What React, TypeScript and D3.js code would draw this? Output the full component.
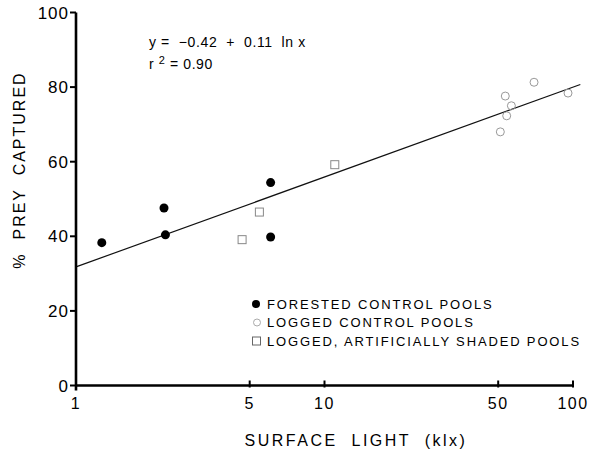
import React, { useEffect, useRef } from "react"
import * as d3 from "d3"

// forested control pools (filled dots)
const forestedX = [1.27, 2.26, 2.29, 6.07, 6.07];
const forestedY = [38.3, 47.6, 40.4, 54.4, 39.8];

// logged control pools (open circles)
const loggedX = [69.7, 53.4, 56.5, 54.1, 51.0, 95.5];
const loggedY = [81.3, 77.6, 75.0, 72.3, 68.0, 78.4];

// logged, artificially shaded pools (open squares)
const shadedX = [4.66, 5.47, 11.0];
const shadedY = [39.1, 46.5, 59.2];

// fitted line ends
const fitX = [1, 107];
const fitY = [31.8, 80.7];

const xTicks = [1, 5, 10, 50, 100];
const yTicks = [0, 20, 40, 60, 80, 100];

const legendLabels = [
    'FORESTED CONTROL POOLS',
    'LOGGED CONTROL POOLS',
    'LOGGED, ARTIFICIALLY SHADED POOLS'
];

const width = 593;
const height = 454;
const font = '"Liberation Sans", Arial, Helvetica, sans-serif';

const App = () => {
    const ref = useRef(null);

    useEffect(() => {
        const g = d3.select(ref.current);
        g.selectAll('*').remove();

        const xScale = d3.scaleLog().domain([1, 100]).range([76, 573]);
        const yScale = d3.scaleLinear().domain([0, 100]).range([385.5, 12.5]);

        // fitted line
        g.append('line')
            .attr('x1', xScale(fitX[0]))
            .attr('y1', yScale(fitY[0]))
            .attr('x2', xScale(fitX[1]))
            .attr('y2', yScale(fitY[1]))
            .attr('stroke', '#111')
            .attr('stroke-width', 1.2)

        // axes
        g.append('line')
            .attr('x1', xScale(1)).attr('x2', xScale(1))
            .attr('y1', yScale(100)).attr('y2', yScale(0) + 5)
            .attr('stroke', '#000').attr('stroke-width', 2.6)

        g.append('line')
            .attr('x1', xScale(1)).attr('x2', xScale(100))
            .attr('y1', yScale(0)).attr('y2', yScale(0))
            .attr('stroke', '#000').attr('stroke-width', 2.6)

        const yT = g.append('g');
        yTicks.forEach(t => {
            yT.append('line')
                .attr('x1', xScale(1) - 6).attr('x2', xScale(1))
                .attr('y1', yScale(t)).attr('y2', yScale(t))
                .attr('stroke', '#000').attr('stroke-width', 2)
            yT.append('text')
                .attr('x', xScale(1) - 7)
                .attr('y', yScale(t))
                .attr('dy', '0.36em')
                .attr('text-anchor', 'end')
                .attr('font-size', 17)
                .attr('letter-spacing', 1)
                .attr('font-family', font)
                .text(t)
        })

        const xT = g.append('g');
        xTicks.forEach(t => {
            xT.append('line')
                .attr('x1', xScale(t)).attr('x2', xScale(t))
                .attr('y1', yScale(0) - 5).attr('y2', yScale(0) + 2)
                .attr('stroke', '#000').attr('stroke-width', 2)
            xT.append('text')
                .attr('x', xScale(t))
                .attr('y', yScale(0) + 23)
                .attr('text-anchor', 'middle')
                .attr('font-size', 16)
                .attr('letter-spacing', 1.5)
                .attr('font-family', font)
                .text(t)
        })

        // axis labels
        g.append('text')
            .attr('x', 356)
            .attr('y', 446)
            .attr('text-anchor', 'middle')
            .attr('font-size', 16)
            .attr('letter-spacing', 2.5)
            .attr('font-family', font)
            .attr('xml:space', 'preserve')
            .text('SURFACE  LIGHT  (klx)')

        g.append('text')
            .attr('transform', `translate(25, 170) rotate(-90)`)
            .attr('text-anchor', 'middle')
            .attr('font-size', 16)
            .attr('letter-spacing', 2)
            .attr('font-family', font)
            .attr('xml:space', 'preserve')
            .text('%  PREY  CAPTURED')

        // equation
        g.append('text')
            .attr('x', 149).attr('y', 47)
            .attr('font-size', 14)
            .attr('letter-spacing', 0.6)
            .attr('font-family', font)
            .attr('xml:space', 'preserve')
            .text('y =  \u22120.42  +  0.11  ln x')

        const r2 = g.append('text')
            .attr('x', 149).attr('y', 69)
            .attr('font-size', 14)
            .attr('letter-spacing', 0.6)
            .attr('font-family', font)
            .attr('xml:space', 'preserve')
        r2.append('tspan').text('r ')
        r2.append('tspan').attr('dy', -5).attr('font-size', 11).text('2')
        r2.append('tspan').attr('dy', 5).text(' = 0.90')

        // points
        g.selectAll('.forested')
            .data(forestedX)
            .enter().append('circle')
                .attr('cx', d => xScale(d))
                .attr('cy', (d, i) => yScale(forestedY[i]))
                .attr('r', 4.5)
                .attr('fill', '#000')

        g.selectAll('.logged')
            .data(loggedX)
            .enter().append('circle')
                .attr('cx', d => xScale(d))
                .attr('cy', (d, i) => yScale(loggedY[i]))
                .attr('r', 4)
                .attr('fill', 'none')
                .attr('stroke', '#999')
                .attr('stroke-width', 1)

        g.selectAll('.shaded')
            .data(shadedX)
            .enter().append('rect')
                .attr('x', d => xScale(d) - 4)
                .attr('y', (d, i) => yScale(shadedY[i]) - 4)
                .attr('width', 8)
                .attr('height', 8)
                .attr('fill', 'none')
                .attr('stroke', '#888')
                .attr('stroke-width', 1)

        // legend
        const lg = g.append('g');
        const rows = [304, 322.5, 341];
        lg.append('circle').attr('cx', 256).attr('cy', rows[0]).attr('r', 4).attr('fill', '#000')
        lg.append('circle').attr('cx', 257).attr('cy', rows[1]).attr('r', 3.5)
            .attr('fill', 'none').attr('stroke', '#aaa')
        lg.append('rect').attr('x', 252.5).attr('y', rows[2] - 4).attr('width', 8).attr('height', 8)
            .attr('fill', 'none').attr('stroke', '#666')
        legendLabels.forEach((l, i) => {
            lg.append('text')
                .attr('x', 267)
                .attr('y', rows[i])
                .attr('dy', '0.36em')
                .attr('font-size', 13)
                .attr('letter-spacing', 1.85)
                .attr('font-family', font)
                .text(l)
        })
    }, []);

    return (
        <svg width={width} height={height} style={{ position: 'absolute', left: 0, top: 0, background: '#fff' }}>
            <g ref={ref} />
        </svg>
    )
}

export default App;
